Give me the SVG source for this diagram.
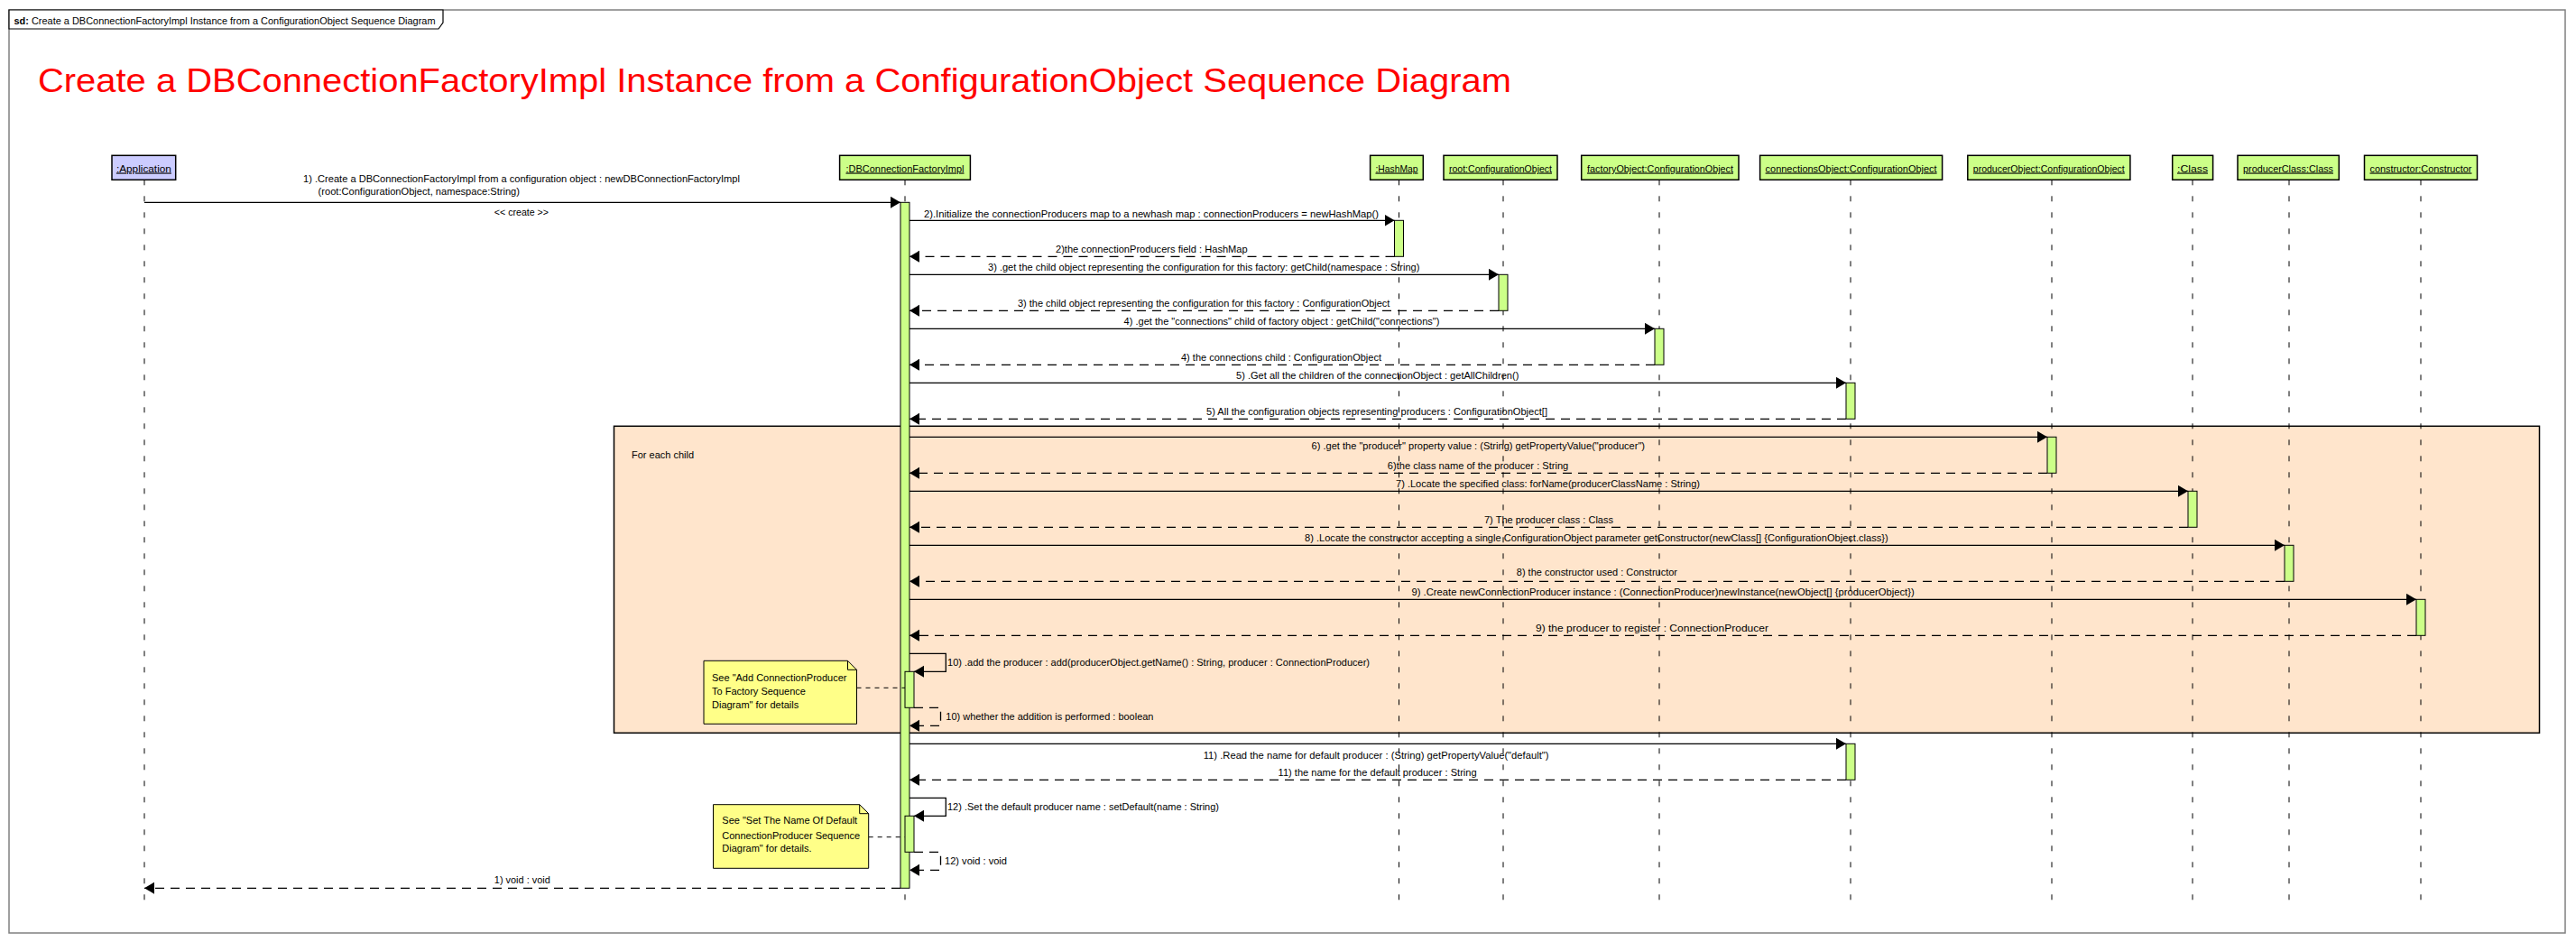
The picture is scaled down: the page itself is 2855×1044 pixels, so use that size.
<svg xmlns="http://www.w3.org/2000/svg" width="2855" height="1044" viewBox="0 0 2855 1044">
<defs>
<marker id="ah" markerUnits="userSpaceOnUse" markerWidth="12" markerHeight="14" refX="11" refY="6.5" orient="auto">
<path d="M0,0 L11,6.5 L0,13 z" fill="#000"/>
</marker>
<style>
text{font-family:"Liberation Sans",Arial,sans-serif;font-size:11px;fill:#000}
.head{stroke:#000;stroke-width:1.5;fill:#CCFF88}
.app{fill:#CCCCFF}
.hl{text-decoration:underline;text-anchor:middle}
.life{stroke:#000;stroke-width:1;stroke-dasharray:6 12;fill:none}
.act{fill:#CCFF88;stroke:#000;stroke-width:1}
.msg{stroke:#000;stroke-width:1.3;fill:none;marker-end:url(#ah)}
.ret{stroke:#000;stroke-width:1.3;fill:none;stroke-dasharray:10 7;marker-end:url(#ah)}
.note{fill:#FFFF88;stroke:#000;stroke-width:1}
.nl{stroke:#000;stroke-width:1;stroke-dasharray:5 5;fill:none}
</style>
</defs>
<rect x="0" y="0" width="2855" height="1044" fill="#fff"/>
<rect x="10" y="11" width="2833" height="1023" fill="none" stroke="#808080" stroke-width="1.5"/>
<path d="M10,11 H491 V25 L486,32 H10 z" fill="#fff" stroke="#000" stroke-width="1.2"/>
<text x="15.5" y="26.5" textLength="467" lengthAdjust="spacingAndGlyphs"><tspan font-weight="bold">sd:</tspan> Create a DBConnectionFactoryImpl Instance from a ConfigurationObject Sequence Diagram</text>
<text x="42" y="102" style="font-size:37px;fill:#FF0000" textLength="1633" lengthAdjust="spacingAndGlyphs">Create a DBConnectionFactoryImpl Instance from a ConfigurationObject Sequence Diagram</text>

<g id="loop">
<rect x="680.5" y="472.3" width="2134" height="340" fill="#FFE5CC" stroke="#000" stroke-width="1.5"/>
<text x="700" y="508.3" textLength="69" lengthAdjust="spacingAndGlyphs">For each child</text>
</g>

<g id="lifelines">
<g id="application">
<rect class="head app" x="124" y="172.3" width="70.7" height="27"/>
<text class="hl" x="159.4" y="190.5" textLength="61" lengthAdjust="spacingAndGlyphs">:Application</text>
<line class="life" x1="160" y1="199.3" x2="160" y2="1003"/>
</g>
<g id="dbconnectionfactoryimpl">
<rect class="head" x="930.6" y="172.3" width="144.8" height="27"/>
<text class="hl" x="1003" y="190.5" textLength="131" lengthAdjust="spacingAndGlyphs">:DBConnectionFactoryImpl</text>
<line class="life" x1="1003" y1="199.3" x2="1003" y2="1003"/>
</g>
<g id="hashmap">
<rect class="head" x="1518.6" y="172.3" width="58.7" height="27"/>
<text class="hl" x="1548" y="190.5" textLength="47" lengthAdjust="spacingAndGlyphs">:HashMap</text>
<line class="life" x1="1550.5" y1="199.3" x2="1550.5" y2="1003"/>
</g>
<g id="root">
<rect class="head" x="1600" y="172.3" width="126" height="27"/>
<text class="hl" x="1663" y="190.5" textLength="114" lengthAdjust="spacingAndGlyphs">root:ConfigurationObject</text>
<line class="life" x1="1666" y1="199.3" x2="1666" y2="1003"/>
</g>
<g id="factoryObject">
<rect class="head" x="1752.7" y="172.3" width="174.3" height="27"/>
<text class="hl" x="1840" y="190.5" textLength="162" lengthAdjust="spacingAndGlyphs">factoryObject:ConfigurationObject</text>
<line class="life" x1="1839" y1="199.3" x2="1839" y2="1003"/>
</g>
<g id="connectionsObject">
<rect class="head" x="1950.6" y="172.3" width="202" height="27"/>
<text class="hl" x="2051.6" y="190.5" textLength="190" lengthAdjust="spacingAndGlyphs">connectionsObject:ConfigurationObject</text>
<line class="life" x1="2051" y1="199.3" x2="2051" y2="1003"/>
</g>
<g id="producerObject">
<rect class="head" x="2180.8" y="172.3" width="180.1" height="27"/>
<text class="hl" x="2270.8" y="190.5" textLength="168" lengthAdjust="spacingAndGlyphs">producerObject:ConfigurationObject</text>
<line class="life" x1="2274" y1="199.3" x2="2274" y2="1003"/>
</g>
<g id="class">
<rect class="head" x="2407.7" y="172.3" width="44.9" height="27"/>
<text class="hl" x="2430" y="190.5" textLength="34" lengthAdjust="spacingAndGlyphs">:Class</text>
<line class="life" x1="2430" y1="199.3" x2="2430" y2="1003"/>
</g>
<g id="producerClass">
<rect class="head" x="2480" y="172.3" width="112.3" height="27"/>
<text class="hl" x="2536" y="190.5" textLength="100" lengthAdjust="spacingAndGlyphs">producerClass:Class</text>
<line class="life" x1="2537" y1="199.3" x2="2537" y2="1003"/>
</g>
<g id="constructor">
<rect class="head" x="2620.5" y="172.3" width="125" height="27"/>
<text class="hl" x="2683" y="190.5" textLength="113" lengthAdjust="spacingAndGlyphs">constructor:Constructor</text>
<line class="life" x1="2683" y1="199.3" x2="2683" y2="1003"/>
</g>
</g>

<g id="activations">
<rect class="act" x="998" y="224.3" width="10" height="760"/>
<rect class="act" x="1545.5" y="244.3" width="10" height="40"/>
<rect class="act" x="1661" y="304.3" width="10" height="40"/>
<rect class="act" x="1834" y="364.3" width="10" height="40"/>
<rect class="act" x="2046" y="424.3" width="10" height="40"/>
<rect class="act" x="2269" y="484.3" width="10" height="40"/>
<rect class="act" x="2425" y="544.3" width="10" height="40"/>
<rect class="act" x="2532" y="604.3" width="10" height="40"/>
<rect class="act" x="2678" y="664.3" width="10" height="40"/>
<rect class="act" x="1003" y="744.3" width="10" height="40"/>
<rect class="act" x="2046" y="824.3" width="10" height="40"/>
<rect class="act" x="1003" y="904.3" width="10" height="40"/>
</g>

<g id="connectors">
<line class="msg" x1="160" y1="224.3" x2="998" y2="224.3"/>
<line class="msg" x1="1008" y1="244.3" x2="1545.5" y2="244.3"/>
<line class="ret" x1="1545.5" y1="284.3" x2="1008" y2="284.3"/>
<line class="msg" x1="1008" y1="304.3" x2="1661" y2="304.3"/>
<line class="ret" x1="1661" y1="344.3" x2="1008" y2="344.3"/>
<line class="msg" x1="1008" y1="364.3" x2="1834" y2="364.3"/>
<line class="ret" x1="1834" y1="404.3" x2="1008" y2="404.3"/>
<line class="msg" x1="1008" y1="424.3" x2="2046" y2="424.3"/>
<line class="ret" x1="2046" y1="464.3" x2="1008" y2="464.3"/>
<line class="msg" x1="1008" y1="484.3" x2="2269" y2="484.3"/>
<line class="ret" x1="2269" y1="524.3" x2="1008" y2="524.3"/>
<line class="msg" x1="1008" y1="544.3" x2="2425" y2="544.3"/>
<line class="ret" x1="2425" y1="584.3" x2="1008" y2="584.3"/>
<line class="msg" x1="1008" y1="604.3" x2="2532" y2="604.3"/>
<line class="ret" x1="2532" y1="644.3" x2="1008" y2="644.3"/>
<line class="msg" x1="1008" y1="664.3" x2="2678" y2="664.3"/>
<line class="ret" x1="2678" y1="704.3" x2="1008" y2="704.3"/>
<polyline class="msg" points="1008,724.3 1048.3,724.3 1048.3,744.3 1013,744.3"/>
<polyline class="ret" points="1013,784.3 1042.5,784.3 1042.5,804.3 1008,804.3"/>
<line class="msg" x1="1008" y1="824.3" x2="2046" y2="824.3"/>
<line class="ret" x1="2046" y1="864.3" x2="1008" y2="864.3"/>
<polyline class="msg" points="1008,884.3 1048.3,884.3 1048.3,904.3 1013,904.3"/>
<polyline class="ret" points="1013,944.3 1042.5,944.3 1042.5,964.3 1008,964.3"/>
<line class="ret" x1="998" y1="984.3" x2="160" y2="984.3"/>
<line class="nl" x1="949.5" y1="762.3" x2="1003" y2="762.3"/>
<line class="nl" x1="962.7" y1="927.7" x2="1003" y2="927.7"/>
</g>

<g id="labels">
<text x="336" y="201.5" textLength="484" lengthAdjust="spacingAndGlyphs">1) .Create a DBConnectionFactoryImpl from a configuration object : newDBConnectionFactoryImpl</text>
<text x="352.6" y="215.5" textLength="223.4" lengthAdjust="spacingAndGlyphs">(root:ConfigurationObject, namespace:String)</text>
<text x="547.8" y="239" textLength="60.2" lengthAdjust="spacingAndGlyphs">&lt;&lt; create &gt;&gt;</text>
<text x="1024" y="241" textLength="504" lengthAdjust="spacingAndGlyphs">2).Initialize the connectionProducers map to a newhash map : connectionProducers = newHashMap()</text>
<text x="1170" y="279.7" textLength="212.7" lengthAdjust="spacingAndGlyphs">2)the connectionProducers field : HashMap</text>
<text x="1095" y="300" textLength="478.4" lengthAdjust="spacingAndGlyphs">3) .get the child object representing the configuration for this factory: getChild(namespace : String)</text>
<text x="1128" y="339.7" textLength="412.4" lengthAdjust="spacingAndGlyphs">3) the child object representing the configuration for this factory : ConfigurationObject</text>
<text x="1245.6" y="360" textLength="349.8" lengthAdjust="spacingAndGlyphs">4) .get the "connections" child of factory object : getChild("connections")</text>
<text x="1309" y="399.7" textLength="222" lengthAdjust="spacingAndGlyphs">4) the connections child : ConfigurationObject</text>
<text x="1370" y="420" textLength="313.4" lengthAdjust="spacingAndGlyphs">5) .Get all the children of the connectionObject : getAllChildren()</text>
<text x="1337" y="459.7" textLength="378" lengthAdjust="spacingAndGlyphs">5) All the configuration objects representing producers : ConfigurationObject[]</text>
<text x="1453.6" y="498.3" textLength="369.4" lengthAdjust="spacingAndGlyphs">6) .get the "producer" property value : (String) getPropertyValue("producer")</text>
<text x="1537.8" y="519.7" textLength="200.5" lengthAdjust="spacingAndGlyphs">6)the class name of the producer : String</text>
<text x="1547" y="539.7" textLength="337" lengthAdjust="spacingAndGlyphs">7) .Locate the specified class: forName(producerClassName : String)</text>
<text x="1645" y="579.7" textLength="143" lengthAdjust="spacingAndGlyphs">7) The producer class : Class</text>
<text x="1446" y="599.7" textLength="646.7" lengthAdjust="spacingAndGlyphs">8) .Locate the constructor accepting a single ConfigurationObject parameter getConstructor(newClass[] {ConfigurationObject.class})</text>
<text x="1680.8" y="638.3" textLength="178.2" lengthAdjust="spacingAndGlyphs">8) the constructor used : Constructor</text>
<text x="1564.5" y="659.7" textLength="557.2" lengthAdjust="spacingAndGlyphs">9) .Create newConnectionProducer instance : (ConnectionProducer)newInstance(newObject[] {producerObject})</text>
<text x="1702" y="699.7" textLength="258" lengthAdjust="spacingAndGlyphs">9) the producer to register : ConnectionProducer</text>
<text x="1050" y="738.3" textLength="468" lengthAdjust="spacingAndGlyphs">10) .add the producer : add(producerObject.getName() : String, producer : ConnectionProducer)</text>
<text x="1048.3" y="798.3" textLength="230.2" lengthAdjust="spacingAndGlyphs">10) whether the addition is performed : boolean</text>
<text x="1333.7" y="840.7" textLength="382.8" lengthAdjust="spacingAndGlyphs">11) .Read the name for default producer : (String) getPropertyValue("default")</text>
<text x="1416.6" y="859.7" textLength="220" lengthAdjust="spacingAndGlyphs">11) the name for the default producer : String</text>
<text x="1050" y="898.3" textLength="301" lengthAdjust="spacingAndGlyphs">12) .Set the default producer name : setDefault(name : String)</text>
<text x="1047" y="958.3" textLength="69" lengthAdjust="spacingAndGlyphs">12) void : void</text>
<text x="547.8" y="979" textLength="62" lengthAdjust="spacingAndGlyphs">1) void : void</text>
</g>

<g id="note1">
<path class="note" d="M780,732.3 H939.5 L949.5,742.3 V802.3 H780 z"/>
<path d="M939.5,732.3 V742.3 H949.5" fill="none" stroke="#000" stroke-width="1"/>
<text x="789" y="754.7">See "Add ConnectionProducer</text>
<text x="789" y="769.7">To Factory Sequence</text>
<text x="789" y="784.7">Diagram" for details</text>
</g>
<g id="note2">
<path class="note" d="M790.5,891.7 H952.7 L962.7,901.7 V962.3 H790.5 z"/>
<path d="M952.7,891.7 V901.7 H962.7" fill="none" stroke="#000" stroke-width="1"/>
<text x="800.3" y="913.3">See "Set The Name Of Default</text>
<text x="800.3" y="929.7">ConnectionProducer Sequence</text>
<text x="800.3" y="944">Diagram" for details.</text>
</g>
</svg>
